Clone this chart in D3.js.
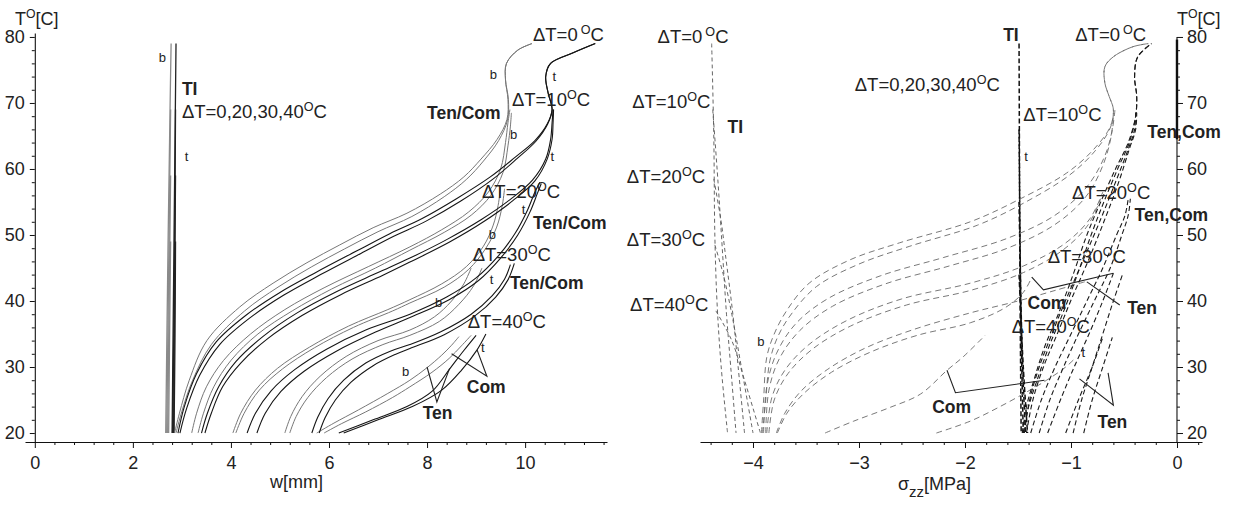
<!DOCTYPE html>
<html>
<head>
<meta charset="utf-8">
<script src="https://cdn.jsdelivr.net/npm/d3@7"></script>
<style>
  body { margin: 0; background: #fff; }
  svg { display: block; }
  text { font-family: "Liberation Sans", Arial, Helvetica, sans-serif; fill: #222; }
</style>
</head>
<body>
<svg id="chart" width="1236" height="505"></svg>
<script>
// ---------- axis ticks ----------
const tempTicks = [20, 30, 40, 50, 60, 70, 80];
const tempMinor = [22, 24, 26, 28, 32, 34, 36, 38, 42, 44, 46, 48, 52, 54, 56, 58, 62, 64, 66, 68, 72, 74, 76, 78];
const wTicks = [0, 2, 4, 6, 8, 10];
const wMinor = [0.4, 0.8, 1.2, 1.6, 2.4, 2.8, 3.2, 3.6, 4.4, 4.8, 5.2, 5.6, 6.4, 6.8, 7.2, 7.6, 8.4, 8.8, 9.2, 9.6, 10.4, 10.8, 11.2, 11.6];
const sTicks = [-4, -3, -2, -1, 0];
const sMinor = [-4.4, -4.2, -3.8, -3.6, -3.4, -3.2, -2.8, -2.6, -2.4, -2.2, -1.8, -1.6, -1.4, -1.2, -0.8, -0.6, -0.4, -0.2, 0.2];

// ---------- left panel: deflection w [mm] vs temperature T ----------
// TI, bottom (b) and top (t) fibres
const tiB0 = [[2.67,20],[2.72,50],[2.76,70],[2.78,79]];
const tiB20 = [[2.69,20],[2.73,45],[2.77,69]];
const tiB30 = [[2.71,20],[2.74,40],[2.77,59]];
const tiB40 = [[2.73,20],[2.75,35],[2.77,49]];
const tiT0 = [[2.80,20],[2.84,50],[2.88,79]];
const tiT20 = [[2.81,20],[2.85,45],[2.87,69]];
const tiT30 = [[2.83,20],[2.85,40],[2.87,59]];
const tiT40 = [[2.84,20],[2.86,35],[2.87,49]];

// dT = 0
const wB0Ten = [[2.85,20],[2.95,23],[3.15,28],[3.51,34],[4.18,39.1],[4.86,42.7],[5.55,45.8],[6.22,48.5],[6.9,51.1],[7.59,53.3],[8.27,56.2],[8.75,58.8],[9.1,61.5],[9.43,64.5],[9.63,67.5],[9.65,70.5],[9.6,73.5],[9.62,76],[9.85,78],[10.14,79]];
const wB0Com = [[2.88,20],[3.0,23.3],[3.22,28],[3.6,33.4],[4.28,38.5],[4.96,42.1],[5.65,45.2],[6.32,47.9],[7.0,50.5],[7.69,52.8],[8.35,55.8],[8.8,58.4],[9.15,61.2],[9.46,64.3],[9.64,67.4],[9.66,70.5],[9.6,73.5],[9.62,76],[9.85,78],[10.14,79]];
const wT0Ten = [[2.92,20],[3.05,24],[3.3,29],[3.7,33.8],[4.3,37.8],[5.0,41.3],[5.75,44.4],[6.57,47.6],[7.24,50.2],[7.9,52.5],[8.6,55.5],[9.29,58.8],[9.8,61.8],[10.2,64.3],[10.45,66.8],[10.55,69],[10.47,71.5],[10.42,74],[10.52,76],[10.98,77.6],[11.43,79]];
const wT0Com = [[2.96,20],[3.1,23.8],[3.36,28.7],[3.77,33.4],[4.38,37.4],[5.08,40.9],[5.83,44],[6.65,47.2],[7.32,49.8],[7.98,52.1],[8.68,55.1],[9.35,58.5],[9.84,61.6],[10.22,64.2],[10.46,66.8],[10.55,69],[10.47,71.5],[10.42,74],[10.52,76],[10.98,77.6],[11.43,79]];
// dT = 10
const wB10Ten = [[3.2,20],[3.3,23],[3.5,27],[3.85,31],[4.4,35],[5.1,38.7],[5.9,42],[6.8,45.2],[7.65,48.2],[8.3,50.8],[8.85,53.5],[9.25,56.5],[9.5,60],[9.6,64],[9.65,67],[9.69,69]];
const wB10Com = [[3.33,20],[3.44,23],[3.65,27],[4.0,31],[4.55,35],[5.25,38.5],[6.05,41.8],[6.95,45],[7.65,47.7],[8.35,50.4],[8.9,53],[9.3,56],[9.55,59.5],[9.65,63.5],[9.7,66.5],[9.72,68.5]];
const wT10Ten = [[3.4,20],[3.52,23],[3.75,27],[4.1,30.8],[4.65,34.6],[5.35,38.2],[6.15,41.4],[7.0,44.3],[7.65,46.5],[8.4,49.3],[9.1,52.3],[9.7,55.4],[10.15,58.3],[10.42,61.5],[10.52,64.5],[10.55,67],[10.57,69]];
const wT10Com = [[3.47,20],[3.6,23],[3.83,27],[4.2,30.6],[4.75,34.3],[5.45,37.8],[6.25,41],[7.1,43.9],[7.65,45.9],[8.45,48.9],[9.15,52],[9.75,55.2],[10.2,58.2],[10.45,61.5],[10.55,64.5],[10.57,67],[10.58,69]];
// dT = 20
const wB20Ten = [[4.04,20],[4.2,23],[4.5,26.5],[4.95,29.8],[5.6,33],[6.4,36.2],[7.2,38.7],[7.65,40.2],[8.3,42.6],[8.8,45.2],[9.15,48.3],[9.35,51.5],[9.45,54.5],[9.5,57.3]];
const wB20Com = [[4.1,20],[4.27,23],[4.58,26.5],[5.05,29.7],[5.7,32.9],[6.5,36],[7.3,38.5],[7.65,39.7],[8.35,42.1],[8.85,44.8],[9.2,48],[9.42,51.2],[9.53,54.3],[9.58,57]];
const wT20Ten = [[4.33,20],[4.5,23],[4.82,26.4],[5.3,29.6],[5.95,32.7],[6.75,35.6],[7.65,38],[8.4,40.6],[9.0,43.5],[9.45,46.8],[9.8,50.3],[10.05,53.8],[10.2,56.5],[10.3,58]];
const wT20Com = [[4.53,20],[4.7,23],[5.02,26.3],[5.5,29.4],[6.15,32.4],[6.95,35.3],[7.65,37.5],[8.45,40.2],[9.05,43.1],[9.5,46.5],[9.85,50],[10.1,53.5],[10.25,56.3],[10.33,57.8]];
// dT = 30
const wB30Ten = [[5.1,20],[5.22,22.5],[5.45,25.5],[5.82,28.6],[6.35,31.6],[7.0,34],[7.65,35.6],[8.15,37.6],[8.5,40],[8.75,42.6],[8.9,45]];
const wB30Com = [[5.2,20],[5.33,22.5],[5.57,25.4],[5.95,28.4],[6.47,31.2],[7.1,33.4],[7.65,34.8],[8.25,36.9],[8.65,39.5],[8.95,42.3],[9.12,45]];
const wT30Ten = [[5.65,20],[5.77,22.4],[5.98,25.2],[6.3,28],[6.75,30.6],[7.25,32.4],[7.65,33.4],[8.27,35.3],[8.9,38],[9.33,40.8],[9.58,43.3],[9.7,45.5]];
const wT30Com = [[5.8,20],[5.92,22.3],[6.13,25],[6.45,27.7],[6.9,30.2],[7.35,31.9],[7.65,32.8],[8.35,34.9],[8.97,37.7],[9.4,40.6],[9.65,43.2],[9.78,45.7]];
// dT = 40
const wB40Ten = [[5.75,20],[6.1,21.5],[6.6,23.5],[7.2,26],[7.65,28],[8.0,29.9],[8.3,31.8],[8.5,33.3],[8.65,34.6]];
const wB40Com = [[5.9,20],[6.25,21.4],[6.75,23.2],[7.3,25.4],[7.65,27],[8.1,29.2],[8.45,31.3],[8.7,33.2],[8.9,34.8]];
const wT40Ten = [[6.2,20],[6.9,22],[7.59,24],[8.1,26.3],[8.47,29.8],[8.75,32.5],[9.0,34.8]];
const wT40Com = [[6.3,20],[7.0,22],[7.7,24],[8.3,26.5],[8.7,29.5],[9.02,32.6],[9.2,35]];

// ---------- right panel: axial stress sigma_zz [MPa] vs temperature T ----------
const sTI0 = [[-4.39,79],[-4.37,65],[-4.36,50],[-4.34,40],[-4.3,30],[-4.24,20]];
const sTI10 = [[-4.38,69],[-4.33,58],[-4.29,48],[-4.25,38],[-4.21,30],[-4.16,20]];
const sTI20 = [[-4.37,58.5],[-4.3,52],[-4.26,47],[-4.19,38],[-4.14,30],[-4.08,20]];
const sTI30 = [[-4.36,48.5],[-4.28,44],[-4.2,38],[-4.11,30],[-4.0,20]];
const sTI40 = [[-4.35,38.5],[-4.2,34],[-4.08,28],[-3.93,20]];
const sTIt0 = [[-1.49,79],[-1.48,40],[-1.47,20]];
const sTIt20 = [[-1.49,66],[-1.47,35],[-1.45,20]];
const sTIt30 = [[-1.49,55],[-1.46,32],[-1.43,20]];
const sTIt40 = [[-1.49,44],[-1.45,30],[-1.41,20]];

const sB0Ten = [[-3.92,20],[-3.9,25],[-3.87,31.5],[-3.8,35],[-3.68,38.6],[-3.47,42.7],[-3.09,46.2],[-2.62,48.8],[-1.95,52],[-1.5,55.3],[-1.04,59.4],[-0.79,62.9],[-0.63,66.4],[-0.6,69],[-0.64,71],[-0.68,73],[-0.68,75.5],[-0.6,77],[-0.42,78.5],[-0.27,79]];
const sB0Com = [[-3.91,20],[-3.88,25],[-3.84,31],[-3.76,34.8],[-3.63,38.2],[-3.4,42.2],[-3.0,45.6],[-2.52,48.3],[-1.88,51.5],[-1.45,54.8],[-1.02,59],[-0.78,62.6],[-0.63,66.2],[-0.6,69],[-0.64,71],[-0.68,73],[-0.68,75.5],[-0.6,77],[-0.42,78.5],[-0.27,79]];
const sB10Ten = [[-3.9,20],[-3.87,27],[-3.78,32],[-3.6,36.5],[-3.3,40.3],[-2.8,43.8],[-2.2,46.6],[-1.6,49.5],[-1.15,53],[-0.85,57.3],[-0.68,62],[-0.61,66],[-0.585,69]];
const sB10Com = [[-3.88,20],[-3.85,26.5],[-3.75,31.3],[-3.56,35.5],[-3.25,39.2],[-2.75,42.6],[-2.15,45.3],[-1.6,48],[-1.15,51.6],[-0.86,55.8],[-0.7,60.5],[-0.62,65],[-0.6,68.5]];
const sB20Ten = [[-3.87,20],[-3.82,25.5],[-3.7,29.5],[-3.48,33.3],[-3.12,37],[-2.6,40.3],[-1.95,42.7],[-1.45,45.3],[-1.05,48.8],[-0.82,52.5],[-0.7,56.5]];
const sB20Com = [[-3.85,20],[-3.8,25],[-3.67,29],[-3.44,32.7],[-3.08,36.2],[-2.55,39.4],[-1.95,41.6],[-1.45,44.3],[-1.07,47.8],[-0.84,51.5],[-0.72,55.5]];
const sB30Ten = [[-3.78,20],[-3.7,23],[-3.55,26.3],[-3.3,29.6],[-2.95,32.8],[-2.5,35.6],[-1.95,38.2],[-1.5,40],[-1.15,41.6],[-0.85,43]];
const sB30Com = [[-3.77,20],[-3.68,23],[-3.52,26],[-3.26,29.2],[-2.9,32.2],[-2.45,34.8],[-1.95,36.7],[-1.62,39],[-1.45,41.3],[-1.37,43.6]];
const sB40Ten = [[-2.27,20],[-1.95,21.8],[-1.67,24],[-1.42,26.2],[-1.23,28],[-1.05,30],[-0.95,31.5]];
const sB40Com = [[-3.32,20],[-3.05,21.8],[-2.72,23.8],[-2.42,25.9],[-2.17,29.5],[-2.02,31.5],[-1.81,34.8]];

const sT0Ten = [[-1.46,20],[-1.42,24],[-1.35,28],[-1.25,33],[-1.12,38],[-0.98,44],[-0.85,50],[-0.72,55],[-0.58,60],[-0.46,64],[-0.39,68],[-0.38,71],[-0.4,74],[-0.37,77],[-0.24,79]];
const sT0Com = [[-1.45,20],[-1.4,24],[-1.32,28],[-1.21,33],[-1.08,38],[-0.94,44],[-0.81,50],[-0.69,55],[-0.56,60],[-0.45,64],[-0.39,68],[-0.38,71],[-0.4,74],[-0.37,77],[-0.24,79]];
const sT10Ten = [[-1.42,20],[-1.36,25],[-1.26,30],[-1.13,35],[-0.99,40.5],[-0.84,46],[-0.69,52],[-0.55,58],[-0.45,63],[-0.39,66],[-0.38,68.5]];
const sT10Com = [[-1.44,20],[-1.39,25],[-1.3,30],[-1.18,35],[-1.04,40.5],[-0.89,46],[-0.73,52],[-0.58,58],[-0.46,63],[-0.4,66],[-0.39,68.5]];
const sT20Ten = [[-1.3,20],[-1.2,25],[-1.07,30],[-0.93,35],[-0.78,40],[-0.63,45],[-0.52,50],[-0.46,53],[-0.44,55.5]];
const sT20Com = [[-1.38,20],[-1.28,25],[-1.15,30],[-1.0,35],[-0.85,40],[-0.7,45],[-0.57,50],[-0.49,53],[-0.46,55.5]];
const sT30Ten = [[-0.98,20],[-0.9,25],[-0.8,30],[-0.7,35],[-0.6,40],[-0.51,44.2]];
const sT30Com = [[-1.22,20],[-1.1,25],[-0.97,30],[-0.83,35],[-0.7,40],[-0.6,44.2]];
const sT40Ten = [[-0.88,20],[-0.8,25],[-0.7,30],[-0.61,34.5]];
const sT40Com = [[-1.05,20],[-0.93,25],[-0.8,30],[-0.7,34.5]];

// ---------- annotations (data coordinates; "°" marks a raised O) ----------
const leftNotes = [
  [2.53, 76.2, "b", "s"], [3.0, 71.2, "TI", "B"], [3.0, 67.7, "ΔT=0,20,30,40°C", "n"], [3.06, 61.2, "t", "s"],
  [10.16, 79.4, "ΔT=0 °C", "n"], [9.28, 73.6, "b", "s"], [10.56, 73.3, "t", "s"],
  [9.73, 69.5, "ΔT=10°C", "n"], [8.0, 67.6, "Ten/Com", "B"], [9.69, 64.5, "b", "s"], [10.52, 61.2, "t", "s"],
  [9.12, 55.6, "ΔT=20°C", "n"], [9.93, 53.2, "t", "s"], [10.16, 50.9, "Ten/Com", "B"], [9.26, 49.4, "b", "s"],
  [8.93, 46.1, "ΔT=30°C", "n"], [9.28, 42.6, "t", "s"], [9.69, 41.8, "Ten/Com", "B"], [8.16, 39.1, "b", "s"],
  [8.83, 35.9, "ΔT=40°C", "n"], [9.1, 32.3, "t", "s"], [7.49, 28.6, "b", "s"],
  [8.81, 26.1, "Com", "B"], [7.91, 22.1, "Ten", "B"]
];
const leftPointers = [
  [[8.0, 30.0], [8.2, 24.7], [8.46, 29.8]],
  [[8.5, 32.0], [9.22, 28.6], [9.02, 32.6]]
];
const rightNotes = [
  [-4.9, 79.1, "ΔT=0 °C", "n"], [-5.14, 69.2, "ΔT=10°C", "n"], [-4.24, 65.5, "TI", "B"],
  [-5.19, 57.9, "ΔT=20°C", "n"], [-5.19, 48.3, "ΔT=30°C", "n"], [-5.16, 38.5, "ΔT=40°C", "n"],
  [-3.96, 33.2, "b", "s"], [-3.04, 71.8, "ΔT=0,20,30,40°C", "n"],
  [-1.64, 79.4, "TI", "B"], [-0.96, 79.4, "ΔT=0 °C", "n"], [-1.45, 67.3, "ΔT=10°C", "n"],
  [-1.44, 61.2, "t", "s"], [-0.28, 64.7, "Ten,Com", "B"], [-0.99, 55.5, "ΔT=20°C", "n"],
  [-0.40, 52.1, "Ten,Com", "B"], [-1.22, 45.8, "ΔT=30°C", "n"], [-1.41, 38.8, "Com", "B"],
  [-0.47, 38.0, "Ten", "B"], [-1.56, 35.2, "ΔT=40°C", "n"], [-0.90, 31.5, "t", "s"],
  [-2.31, 23.0, "Com", "B"], [-0.75, 20.8, "Ten", "B"]
];
const rightPointers = [
  [[-1.37, 43.6], [-1.26, 41.7], [-0.60, 44.2]],
  [[-0.85, 42.9], [-0.54, 39.4]],
  [[-2.17, 29.5], [-2.09, 26.1], [-1.25, 28.0]],
  [[-0.92, 28.2], [-0.60, 24.2], [-0.65, 29.1]]
];

// ---------- scales ----------
const svg = d3.select("#chart");
const yT = d3.scaleLinear().domain([18.64, 80.6]).range([442, 33]);
const xW = d3.scaleLinear().domain([-0.2, 11.67]).range([25, 607]);
const xS = d3.scaleLinear().domain([-4.5, 0.236]).range([700, 1202]);

const lineW = d3.line().x(d => xW(d[0])).y(d => yT(d[1])).curve(d3.curveCatmullRom.alpha(0.5));
const lineS = d3.line().x(d => xS(d[0])).y(d => yT(d[1])).curve(d3.curveCatmullRom.alpha(0.5));

// ---------- axes ----------
function styleAxis(g) {
  g.selectAll("path.domain").attr("stroke", "#111").attr("stroke-width", 1.1);
  g.selectAll(".tick line").attr("stroke", "#111");
  g.selectAll(".tick text").attr("font-size", 18).attr("fill", "#222")
    .attr("font-family", '"Liberation Sans", Arial, sans-serif');
}
function minor(g) {
  g.select("path.domain").remove();
  g.selectAll(".tick line").attr("stroke", "#111");
}
const intFmt = d3.format("d");

// left panel axes
svg.append("g").attr("transform", `translate(0,${yT(18.64)})`)
  .call(d3.axisBottom(xW).tickValues(wTicks).tickFormat(intFmt).tickSize(6).tickSizeOuter(0).tickPadding(8)).call(styleAxis);
svg.append("g").attr("transform", `translate(0,${yT(18.64)})`)
  .call(d3.axisBottom(xW).tickValues(wMinor).tickSize(3).tickFormat("")).call(minor);
svg.append("g").attr("transform", `translate(${xW(0)},0)`)
  .call(d3.axisLeft(yT).tickValues(tempTicks).tickFormat(intFmt).tickSize(5).tickSizeOuter(0).tickPadding(5)).call(styleAxis);
svg.append("g").attr("transform", `translate(${xW(0)},0)`)
  .call(d3.axisLeft(yT).tickValues(tempMinor).tickSize(3).tickFormat("")).call(minor);

// right panel axes
svg.append("g").attr("transform", `translate(0,${yT(18.64)})`)
  .call(d3.axisBottom(xS).tickValues(sTicks).tickFormat(intFmt).tickSize(6).tickSizeOuter(0).tickPadding(8)).call(styleAxis);
svg.append("g").attr("transform", `translate(0,${yT(18.64)})`)
  .call(d3.axisBottom(xS).tickValues(sMinor).tickSize(3).tickFormat("")).call(minor);
const rAxis = svg.append("g").attr("transform", `translate(${xS(0)},0)`)
  .call(d3.axisRight(yT).tickValues(tempTicks).tickFormat(intFmt).tickSize(6).tickSizeOuter(0).tickPadding(4)).call(styleAxis);
rAxis.select("path.domain").attr("d", `M0,${yT(80)}V${yT(18.64)}`);
svg.append("g").attr("transform", `translate(${xS(0)},0)`)
  .call(d3.axisRight(yT).tickValues(tempMinor).tickSize(3).tickFormat("")).call(minor);
svg.append("line").attr("x1", xS(0)).attr("x2", xS(0)).attr("y1", yT(79.6)).attr("y2", yT(64.5))
  .attr("stroke", "#111").attr("stroke-width", 2.4);

// ---------- left panel curves ----------
const gL = svg.append("g").attr("fill", "none");
const leftGrey = [wB0Ten, wB0Com, wB10Ten, wB10Com, wB20Ten, wB20Com, wB30Ten, wB30Com, wB40Ten, wB40Com];
const leftBlack = [wT0Ten, wT0Com, wT10Ten, wT10Com, wT20Ten, wT20Com, wT30Ten, wT30Com, wT40Ten, wT40Com];
gL.selectAll("path.tib").data([tiB0, tiB20, tiB30, tiB40]).join("path").attr("class", "tib")
  .attr("d", lineW).attr("stroke", "#8a8a8a").attr("stroke-width", 1.3);
gL.selectAll("path.tit").data([tiT0, tiT20, tiT30, tiT40]).join("path").attr("class", "tit")
  .attr("d", lineW).attr("stroke", "#222").attr("stroke-width", 1.3);
gL.selectAll("path.gb").data(leftGrey).join("path").attr("class", "gb")
  .attr("d", lineW).attr("stroke", "#777").attr("stroke-width", 1);
gL.selectAll("path.gt").data(leftBlack).join("path").attr("class", "gt")
  .attr("d", lineW).attr("stroke", "#151515").attr("stroke-width", 1.1);

// ---------- right panel curves ----------
const gR = svg.append("g").attr("fill", "none");
const rightGrey = [sB0Ten, sB0Com, sB10Ten, sB10Com, sB20Ten, sB20Com, sB30Ten, sB30Com, sB40Ten, sB40Com];
const rightBlack = [sT0Ten, sT0Com, sT10Ten, sT10Com, sT20Ten, sT20Com, sT30Ten, sT30Com, sT40Ten, sT40Com];
gR.selectAll("path.ti").data([sTI0, sTI10, sTI20, sTI30, sTI40]).join("path").attr("class", "ti")
  .attr("d", lineS).attr("stroke", "#555").attr("stroke-width", 0.9).attr("stroke-dasharray", "4,3");
gR.selectAll("path.tt").data([sTIt0, sTIt20, sTIt30, sTIt40]).join("path").attr("class", "tt")
  .attr("d", lineS).attr("stroke", "#111").attr("stroke-width", 1.5).attr("stroke-dasharray", "5,2.5");
gR.selectAll("path.sb").data(rightGrey).join("path").attr("class", "sb")
  .attr("d", lineS).attr("stroke", "#6a6a6a").attr("stroke-width", 0.9).attr("stroke-dasharray", "6,4");
gR.selectAll("path.st").data(rightBlack).join("path").attr("class", "st")
  .attr("d", lineS).attr("stroke", "#1a1a1a").attr("stroke-width", 1.1).attr("stroke-dasharray", "5,3");

// ---------- pointer lines ----------
const ptrW = d3.line().x(d => xW(d[0])).y(d => yT(d[1]));
const ptrS = d3.line().x(d => xS(d[0])).y(d => yT(d[1]));
svg.append("g").selectAll("path").data(leftPointers).join("path")
  .attr("d", ptrW).attr("fill", "none").attr("stroke", "#222").attr("stroke-width", 1.1);
svg.append("g").selectAll("path").data(rightPointers).join("path")
  .attr("d", ptrS).attr("fill", "none").attr("stroke", "#222").attr("stroke-width", 1.1);

// ---------- text helpers ----------
function degText(sel, str, size) {
  const parts = str.split("°");
  const pre = parts[0];
  const gap = /\s$/.test(pre) ? 3 : 0;
  sel.append("tspan").text(pre.trim());
  if (parts.length > 1) {
    sel.append("tspan").attr("font-size", size * 0.68).attr("dy", -size * 0.38).attr("dx", gap).text("O");
    sel.append("tspan").attr("dy", size * 0.38).text(parts[1]);
  }
}
function drawNotes(notes, xScale) {
  const g = svg.append("g");
  notes.forEach(([x, t, str, kind]) => {
    const txt = g.append("text").attr("x", xScale(x)).attr("y", yT(t));
    if (kind === "B") {
      txt.attr("font-size", 17.5).attr("font-weight", "bold").text(str);
    } else if (kind === "s") {
      txt.attr("font-size", 13).text(str);
    } else {
      txt.attr("font-size", 18.5);
      degText(txt, str, 18.5);
    }
  });
}
drawNotes(leftNotes, xW);
drawNotes(rightNotes, xS);

// ---------- axis titles ----------
const tl = svg.append("text").attr("x", 15).attr("y", 25).attr("font-size", 18);
degText(tl, "T°[C]", 18);
const tr = svg.append("text").attr("x", 1177).attr("y", 25).attr("font-size", 18);
degText(tr, "T°[C]", 18);
svg.append("text").attr("x", 270).attr("y", 488).attr("font-size", 18).text("w[mm]");
const sx = svg.append("text").attr("x", 898).attr("y", 490).attr("font-size", 18);
sx.append("tspan").text("σ");
sx.append("tspan").attr("font-size", 15).attr("dy", 7).text("zz");
sx.append("tspan").attr("dy", -7).text("[MPa]");
</script>
</body>
</html>
